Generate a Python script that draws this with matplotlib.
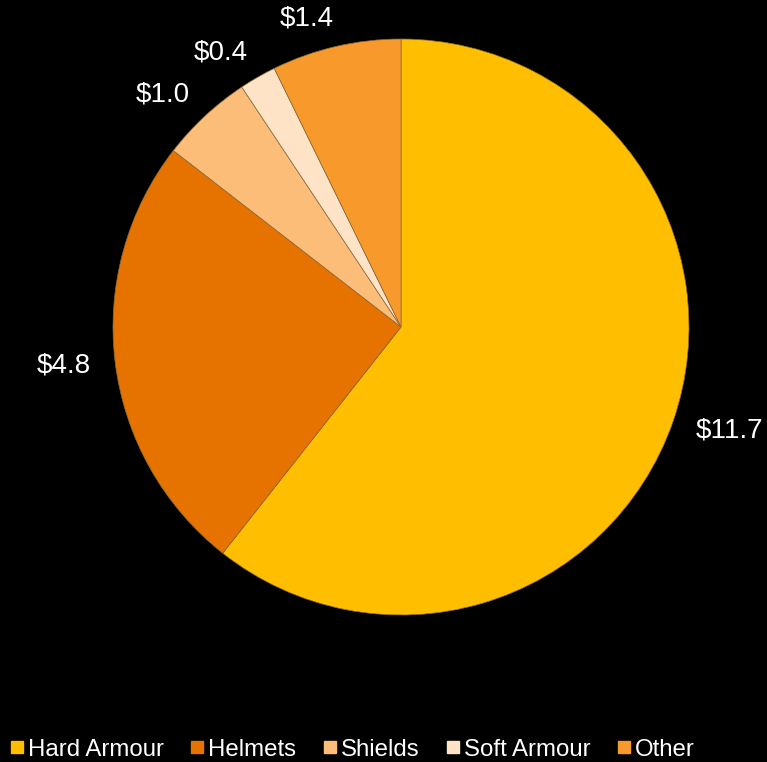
import numpy as np
import matplotlib.pyplot as plt
from matplotlib.lines import Line2D

plt.rcParams['font.family'] = ['Liberation Sans', 'DejaVu Sans']

categories = ["Hard Armour", "Helmets", "Shields", "Soft Armour", "Other"]
values = [11.7, 4.8, 1.0, 0.4, 1.4]
colors = ["#ffbf00", "#e67200", "#fbbd78", "#ffe3c7", "#f8992b"]

W, H = 767, 762
fig = plt.figure(figsize=(W / 100, H / 100), dpi=100, facecolor="black")

cx, cy, r = 401, 327, 288
ax = fig.add_axes([(cx - r) / W, (H - cy - r) / H, 2 * r / W, 2 * r / H])
ax.set_facecolor("black")

# labels sit just outside the rim, anchored left/right by side
wedges, texts = ax.pie(
    values,
    colors=colors,
    labels=["$%.1f" % v for v in values],
    startangle=90,
    counterclock=False,
    labeldistance=1.10,
    wedgeprops=dict(edgecolor="#8a6a3a", linewidth=0.5),
    textprops=dict(color="white", fontsize=20),
)
for t in texts:
    x, y = t.get_position()
    t.set_position((x - np.sign(x) * 0.015, y))
ax.set_xlim(-1, 1)
ax.set_ylim(-1, 1)
ax.set_aspect("equal")
ax.axis("off")

handles = [Line2D([], [], marker="s", linestyle="none", markersize=8.5,
                  markerfacecolor=c, markeredgecolor=c) for c in colors]
fig.legend(handles, categories, loc="lower left", bbox_to_anchor=(0.0, -0.011),
           ncol=5, frameon=False, fontsize=17.3, labelcolor="white",
           handlelength=0.6, handletextpad=0.15, columnspacing=1.1,
           borderaxespad=0.0)

fig.savefig("out.png", dpi=100, facecolor="black")
